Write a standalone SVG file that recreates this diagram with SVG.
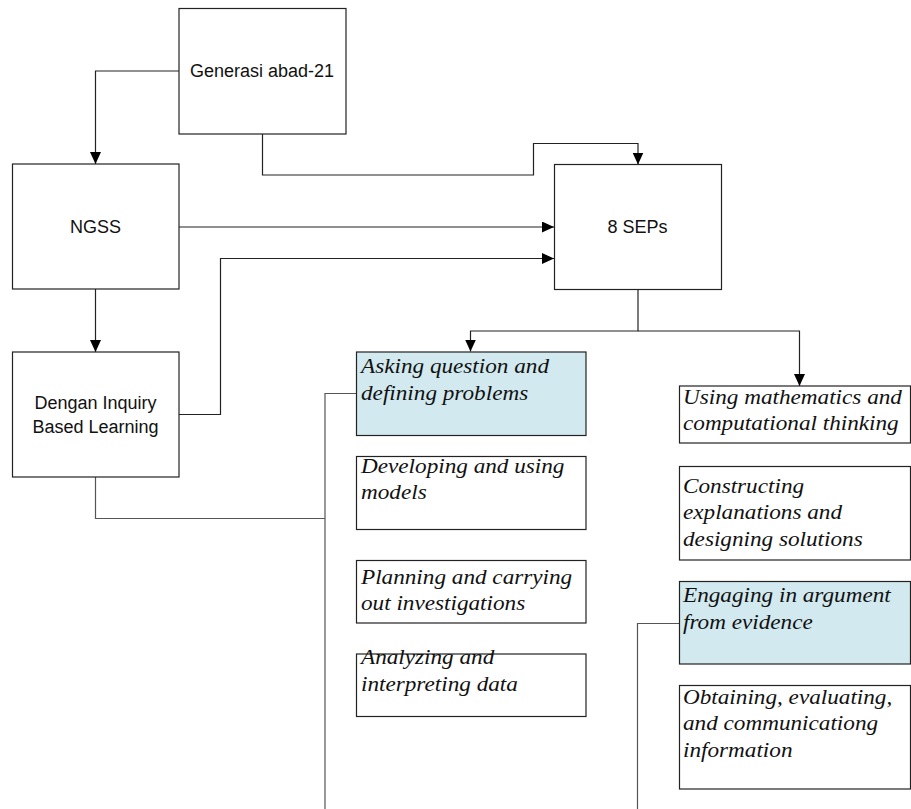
<svg xmlns="http://www.w3.org/2000/svg" width="911" height="809" viewBox="0 0 911 809">
<style>
.box{fill:#fff;stroke:#222;stroke-width:1.2}
.blue{fill:#d2e9ef;stroke:#222;stroke-width:1.2}
.sans{font-family:"Liberation Sans",Arial,sans-serif;font-size:18px;fill:#111;text-anchor:middle}
.it{font-family:"Liberation Serif","Times New Roman",serif;font-style:italic;font-size:20px;fill:#111}
.ln{fill:none;stroke:#222;stroke-width:1.2}
.lg{fill:none;stroke:#555;stroke-width:1.2}
</style>
<defs>
<marker id="ah" markerUnits="userSpaceOnUse" markerWidth="12" markerHeight="12" refX="12" refY="5.5" orient="auto">
<path d="M0,0 L12,5.5 L0,11 z" fill="#000"/>
</marker>
</defs>
<g id="connectors">
<path class="ln" d="M179,71 H95.5 V164" marker-end="url(#ah)"/>
<path class="ln" d="M262.5,134 V175 H533.5 V143.5 H638 V164.5" marker-end="url(#ah)"/>
<path class="ln" d="M179,227 H554" marker-end="url(#ah)"/>
<path class="ln" d="M179,414.5 H220.5 V258.5 H554" marker-end="url(#ah)"/>
<path class="ln" d="M95.5,289 V352" marker-end="url(#ah)"/>
<path class="ln" d="M638,289.5 V331 H470.5 V351.5" marker-end="url(#ah)"/>
<path class="ln" d="M638,331 H799.5 V386" marker-end="url(#ah)"/>
<path class="lg" d="M95.5,477 V518.5 H325"/>
<path class="lg" d="M356,393.5 H325 V809"/>
<path class="lg" d="M679,623.5 H637.5 V809"/>
</g>
<g id="generasi">
<rect class="box" x="179" y="8.5" width="167" height="125.5"/>
<text class="sans" x="262" y="77">Generasi abad-21</text>
</g>
<g id="ngss">
<rect class="box" x="12.5" y="164" width="166.5" height="125"/>
<text class="sans" x="95.5" y="233">NGSS</text>
</g>
<g id="dengan">
<rect class="box" x="12.5" y="352" width="166.5" height="125"/>
<text class="sans" x="95.5" y="409">Dengan Inquiry</text>
<text class="sans" x="95.5" y="433">Based Learning</text>
</g>
<g id="seps">
<rect class="box" x="554.5" y="164.5" width="167" height="125"/>
<text class="sans" x="637.5" y="233">8 SEPs</text>
</g>
<g id="asking">
<rect class="blue" x="356.5" y="352" width="229.5" height="83.5"/>
<text class="it" transform="translate(361,372.5) scale(1.16,1)"><tspan x="0" y="0">Asking question and</tspan><tspan x="0" y="27.5">defining problems</tspan></text>
</g>
<g id="developing">
<rect class="box" x="356.5" y="456.5" width="229.5" height="73"/>
<text class="it" transform="translate(361,472.5) scale(1.16,1)"><tspan x="0" y="0">Developing and using</tspan><tspan x="0" y="27">models</tspan></text>
</g>
<g id="planning">
<rect class="box" x="356.5" y="560.5" width="229.5" height="62.5"/>
<text class="it" transform="translate(361,583.5) scale(1.16,1)"><tspan x="0" y="0">Planning and carrying</tspan><tspan x="0" y="27">out investigations</tspan></text>
</g>
<g id="analyzing">
<rect class="box" x="356.5" y="654" width="229.5" height="62.5"/>
<text class="it" transform="translate(361,663.5) scale(1.16,1)"><tspan x="0" y="0">Analyzing and</tspan><tspan x="0" y="28">interpreting data</tspan></text>
</g>
<g id="using">
<rect class="box" x="679.5" y="386" width="231" height="57"/>
<text class="it" transform="translate(683,403.5) scale(1.16,1)"><tspan x="0" y="0">Using mathematics and</tspan><tspan x="0" y="27">computational thinking</tspan></text>
</g>
<g id="constructing">
<rect class="box" x="679.5" y="466.5" width="231" height="93.5"/>
<text class="it" transform="translate(683,492.5) scale(1.16,1)"><tspan x="0" y="0">Constructing</tspan><tspan x="0" y="27">explanations and</tspan><tspan x="0" y="54">designing solutions</tspan></text>
</g>
<g id="engaging">
<rect class="blue" x="679.5" y="581.5" width="231" height="82.5"/>
<text class="it" transform="translate(683,602) scale(1.16,1)"><tspan x="0" y="0">Engaging in argument</tspan><tspan x="0" y="27">from evidence</tspan></text>
</g>
<g id="obtaining">
<rect class="box" x="679.5" y="685.5" width="231" height="103.5"/>
<text class="it" transform="translate(683,703.5) scale(1.16,1)"><tspan x="0" y="0">Obtaining, evaluating,</tspan><tspan x="0" y="27">and communicationg</tspan><tspan x="0" y="53.5">information</tspan></text>
</g>
</svg>
